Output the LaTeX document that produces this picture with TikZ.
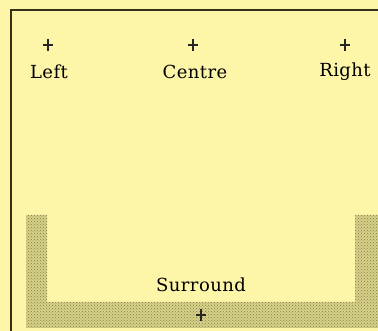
\documentclass[tikz,border=0pt]{standalone}
\usepackage{fontspec}
\setmainfont{DejaVu Serif}
\usetikzlibrary{patterns}
\definecolor{bg}{RGB}{253,245,168}
\definecolor{stip}{RGB}{215,208,135}
\definecolor{stipdot}{RGB}{130,125,80}
\definecolor{frame}{RGB}{55,48,25}
\begin{document}
\begin{tikzpicture}[x=1pt,y=-1pt,
  lbl/.style={inner sep=0pt,font=\fontsize{18}{21}\selectfont\addfontfeature{LetterSpace=2.5},text=black},
  crossmark/.style={line width=1.05pt,draw=black!85}]
\useasboundingbox (0,0) rectangle (378,331);
\fill[bg] (0,0) rectangle (378,331);
% stippled U
\path[fill=stip] (26,215) -- (26,328) -- (378,328) -- (378,215) -- (355,215) -- (355,302) -- (47,302) -- (47,215) -- cycle;
\path[pattern=crosshatch dots,pattern color=stipdot] (26,215) -- (26,328) -- (378,328) -- (378,215) -- (355,215) -- (355,302) -- (47,302) -- (47,215) -- cycle;
% frame
\draw[frame,line width=1.4pt] (11,331) -- (11,10) -- (378,10);
% crosses
\foreach \n/\x/\y in {cl/48/45,cc/193/45,cr/345/45,cs/201/315}{
  \coordinate (\n) at (\x,\y);
  \draw[crossmark] ([xshift=-5pt]\n) -- ([xshift=5pt]\n);
  \draw[crossmark] ([yshift=-6pt]\n) -- ([yshift=6pt]\n);
}
\node[lbl] (left) at (49,72) {Left};
\node[lbl] (centre) at (195,72) {Centre};
\node[lbl] (right) at (345,72) {Right};
\node[lbl] (surround) at (201,285) {Surround};
\end{tikzpicture}
\end{document}
